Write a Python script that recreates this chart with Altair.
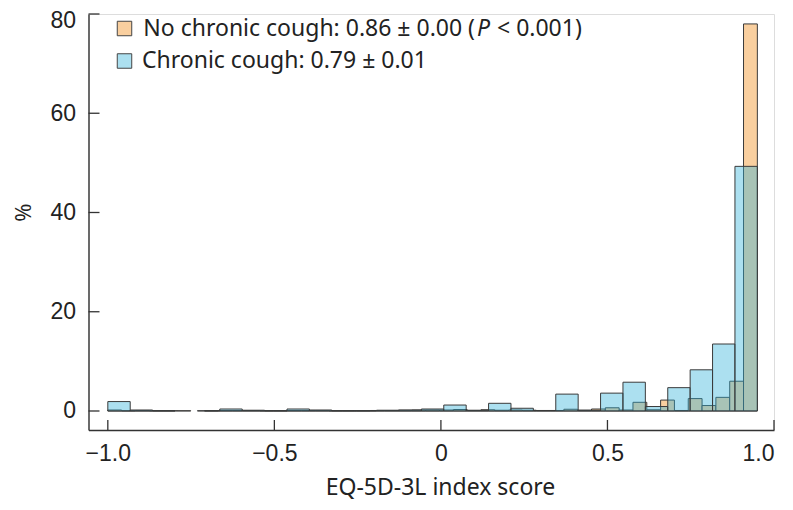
import altair as alt
import numpy as np
import pandas as pd

# ---- data (percent of respondents per bin) ----
score_min, score_max = -1.0, 0.95
cough_pct = [1.9, 0.2, 0.05, 0, 0.05, 0.4, 0.15, 0.05, 0.4, 0.2, 0.05, 0.05, 0.15, 0.2,
             0.4, 1.2, 0.15, 1.55, 0.55, 0.1, 3.4, 0.15, 3.6, 5.8, 0.9, 4.7, 8.3, 13.5, 49.3]
nocough_pct = [0.2, 0.05, 0.1, 0.05, 0.05, 0.05, 0, 0.05, 0.1, 0.1, 0.1, 0.05, 0.05, 0.1,
               0.1, 0.1, 0.05, 0.05, 0.05, 0.1, 0.1, 0.15, 0.2, 0.2, 0.2, 0.3, 0.1, 0.25,
               0.15, 0.2, 0.15, 0.1, 0.1, 0.35, 0.15, 0.4, 0.65, 0.2, 1.75, 0.25, 2.2, 0.1,
               2.5, 1.1, 2.75, 6.0, 78.0]
x_ticks = [-1.0, -0.5, 0.0, 0.5, 1.0]
y_ticks = [0, 20, 40, 60, 80]
legend_row1 = ["No chronic cough: 0.86 \u00b1 0.00 (", "P", "< 0.001)"]
legend_row2 = "Chronic cough: 0.79 \u00b1 0.01"

ORANGE = "#F9CF9F"
BLUE = "#30B2DA"
STROKE = "#3a3a3a"

def bins(pcts):
    edges = np.linspace(score_min, score_max, len(pcts) + 1)
    rows = [dict(start=edges[i], end=edges[i + 1], pct=p, base=0.0)
            for i, p in enumerate(pcts) if p > 0]
    return pd.DataFrame(rows)

W, H = 685.5, 416
xscale = alt.Scale(domain=[-1.058, 1.0], nice=False, zero=False)
yscale = alt.Scale(domain=[-3.83, 80], nice=False, zero=False)

lab_expr_x = "datum.value == 0 ? '0' : replace(format(datum.value, '.1f'), '-', '\u2212')"

x_enc = alt.X("start:Q", scale=xscale, axis=alt.Axis(
    values=x_ticks, labelExpr=lab_expr_x, ticks=False, tickSize=0, grid=False,
    domainColor="#333", domainWidth=1.4, labelPadding=12, labelFontSize=23,
    labelFont="Liberation Sans", labelColor="#222",
    title="EQ-5D-3L index score", titleFont="Noto Sans", titleFontSize=23,
    titleFontWeight="normal", titleColor="#222", titleX=351.5, titleY=57,
    titleBaseline="middle", titleAlign="center"))
y_enc = alt.Y("pct:Q", scale=yscale, axis=alt.Axis(
    values=y_ticks, ticks=False, tickSize=0, grid=False,
    domainColor="#333", domainWidth=1.4, labelPadding=13, labelFontSize=23,
    labelFont="Liberation Sans", labelColor="#222",
    labelOffset={"condition": {"test": "datum.value == 80", "value": 6}, "value": 0},
    title="%", titleFont="Noto Sans", titleFontSize=22, titleFontWeight="normal",
    titleColor="#222", titleX=-65.5, titleY=198, titleAngle=270,
    titleBaseline="middle", titleAlign="center"))

orange = alt.Chart(bins(nocough_pct)).mark_rect(
    fill=ORANGE, stroke=STROKE, strokeWidth=1).encode(
    x=x_enc, x2="end:Q", y=y_enc, y2="base:Q")
blue = alt.Chart(bins(cough_pct)).mark_rect(
    fill=BLUE, fillOpacity=0.4, stroke=STROKE, strokeWidth=1, strokeOpacity=1).encode(
    x=alt.X("start:Q", scale=xscale), x2="end:Q",
    y=alt.Y("pct:Q", scale=yscale), y2="base:Q")

yt = alt.Chart(pd.DataFrame({"v": y_ticks})).mark_rule(color="#333", strokeWidth=1.3).encode(
    y=alt.Y("v:Q", scale=yscale), x=alt.value(0), x2=alt.value(11))
xt = alt.Chart(pd.DataFrame({"v": x_ticks})).mark_rule(color="#333", strokeWidth=1.3).encode(
    x=alt.X("v:Q", scale=xscale), y=alt.value(H), y2=alt.value(H - 10))

# legend
leg_sq = alt.Chart(pd.DataFrame({"c": [ORANGE, "#ACE0F0"], "y": [14.5, 47]})).mark_square(
    size=210, opacity=1, stroke="#444", strokeWidth=1).encode(
    x=alt.value(36), y=alt.Y("y:Q", scale=None), fill=alt.Fill("c:N", scale=None))
tx_kw = dict(font="Noto Sans", fontSize=23, color="#222", baseline="middle")
t1 = alt.Chart(pd.DataFrame({"t": [legend_row1[0]]})).mark_text(align="right", **tx_kw).encode(
    text="t:N", x=alt.value(386.5), y=alt.value(14.5))
t2 = alt.Chart(pd.DataFrame({"t": [legend_row1[1]]})).mark_text(align="left", fontStyle="italic", **tx_kw).encode(
    text="t:N", x=alt.value(388.5), y=alt.value(14.5))
t3 = alt.Chart(pd.DataFrame({"t": [legend_row1[2]]})).mark_text(align="left", **tx_kw).encode(
    text="t:N", x=alt.value(408.5), y=alt.value(14.5))
t4 = alt.Chart(pd.DataFrame({"t": [legend_row2]})).mark_text(align="left", **tx_kw).encode(
    text="t:N", x=alt.value(53.5), y=alt.value(47))

chart = alt.layer(orange, blue, yt, xt, leg_sq, t1, t2, t3, t4).properties(
    width=W, height=H,
    autosize=alt.AutoSizeParams(type="none"),
    padding={"left": 80.5, "top": 6, "right": 10, "bottom": 72},
).configure_view(stroke=None).configure(background="white")

chart.save("out.html", embed_options={"renderer": "svg", "actions": False})
